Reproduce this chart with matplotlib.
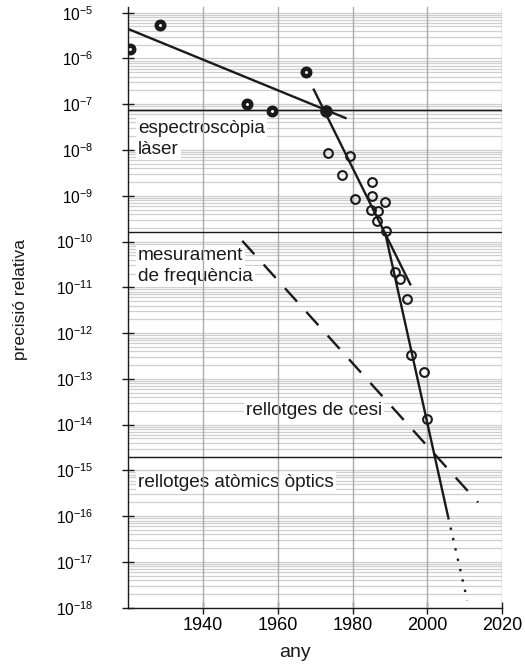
import matplotlib
matplotlib.use("Agg")
import matplotlib.pyplot as plt
from matplotlib.ticker import LogLocator, NullFormatter, LogFormatterMathtext
import numpy as np

plt.rcParams["font.family"] = ["Liberation Sans", "DejaVu Sans"]
plt.rcParams["mathtext.fontset"] = "custom"
plt.rcParams["mathtext.rm"] = "Liberation Sans"
plt.rcParams["mathtext.it"] = "Liberation Sans:italic"
plt.rcParams["mathtext.bf"] = "Liberation Sans:bold"

# early measurements (bold rings)
early_year = [1920.5, 1928.5, 1951.7, 1958.4, 1967.6]
early_prec = [1.6e-6, 5.4e-6, 1.0e-7, 7.1e-8, 5.1e-7]

# point where the two trends cross
cross_year = [1972.9]
cross_prec = [7.1e-8]

# later measurements (open rings)
late_year = [1973.4, 1977.3, 1979.4, 1980.6, 1985.3, 1985.3, 1984.9, 1986.7,
             1986.5, 1988.6, 1988.9, 1991.4, 1992.7, 1994.6, 1995.7, 1999.0, 1999.8]
late_prec = [8.5e-9, 2.8e-9, 7.3e-9, 8.5e-10, 2.0e-9, 1.0e-9, 4.9e-10, 4.7e-10,
             2.8e-10, 7.2e-10, 1.7e-10, 2.2e-11, 1.5e-11, 5.6e-12, 3.4e-13, 1.4e-13, 1.3e-14]

# trend lines (year, precision) endpoints
early_trend_x = [1920.0, 1978.4]
early_trend_y = [4.4e-6, 4.9e-8]
laser_trend_x = [1969.5, 1995.6]
laser_trend_y = [2.2e-7, 1.1e-11]
freq_trend_x = [1988.7, 2005.6]
freq_trend_y = [1.6e-10, 9.5e-17]
proj_trend_x = [2005.6, 2010.7]
proj_trend_y = [9.5e-17, 1.45e-18]
cesium_x = [1950.5, 2013.6]
cesium_y = [1.035e-10, 2.0e-16]

# boundaries between technique regions
region_limits = [7.5e-8, 1.64e-10, 1.93e-15]

# region labels: (year, precision baseline, text)
labels = [
    (1922.6, 2.32e-8, "espectroscòpia"),
    (1922.6, 8.2e-9, "làser"),
    (1922.6, 3.95e-11, "mesurament"),
    (1922.6, 1.37e-11, "de frequència"),
    (1951.4, 1.62e-14, "rellotges de cesi"),
    (1922.6, 4.27e-16, "rellotges atòmics òptics"),
]

x_ticks = [1940, 1960, 1980, 2000, 2020]
y_ticks = 10.0 ** np.arange(-18, -4)

ink = "#1a1a1a"

fig = plt.figure(figsize=(5.25, 6.69), dpi=100)
ax = fig.add_axes([128.3 / 525, (669 - 607.7) / 669, (502 - 128.3) / 525, (607.7 - 7) / 669])

ax.set_yscale("log")
ax.set_xlim(1920, 2020)
ax.set_ylim(1e-18, 10 ** -4.875)

# horizontal grid (minor + major), behind everything
ax.yaxis.set_minor_locator(LogLocator(base=10, subs=np.arange(2, 10), numticks=100))
ax.yaxis.set_minor_formatter(NullFormatter())
ax.set_yticks(y_ticks)
ax.yaxis.set_major_formatter(LogFormatterMathtext())
ax.set_axisbelow(True)
ax.grid(axis="y", which="both", color="#cfcfcf", lw=0.9)

# vertical grid lines drawn above the label boxes
ax.set_xticks(x_ticks)
for xt in x_ticks:
    ax.axvline(xt, color="#ababab", lw=1.0, zorder=3.5)

for lim in region_limits:
    ax.axhline(lim, color=ink, lw=1.0, zorder=4)

for x, y, s in labels:
    ax.text(x, y, s, fontsize=13.7, va="baseline", ha="left", color=ink, zorder=3,
            bbox=dict(facecolor="white", edgecolor="none", pad=1.5))

line_kw = dict(color=ink, lw=1.7, zorder=5, solid_capstyle="butt")
ax.plot(early_trend_x, early_trend_y, **line_kw)
ax.plot(laser_trend_x, laser_trend_y, **line_kw)
ax.plot(freq_trend_x, freq_trend_y, **line_kw)
ax.plot(proj_trend_x, proj_trend_y, color=ink, lw=1.7, zorder=5,
        linestyle=(0, (1, 3.5)), dash_capstyle="butt")
ax.plot(cesium_x, cesium_y, color=ink, lw=1.7, zorder=5,
        linestyle=(0, (7.6, 5.9)), dash_capstyle="butt")

ax.plot(early_year, early_prec, "o", ms=5.4, mew=3.2, mfc="white", mec=ink, zorder=6)
ax.plot(cross_year, cross_prec, "o", ms=8.2, mew=0.8, mfc=ink, mec=ink, zorder=6)
ax.plot(late_year, late_prec, "o", ms=6.3, mew=1.5, mfc="none", mec=ink, zorder=6)

for side in ["top", "right"]:
    ax.spines[side].set_visible(False)
for side in ["left", "bottom"]:
    ax.spines[side].set_linewidth(1.0)
    ax.spines[side].set_color(ink)

ax.tick_params(axis="both", which="major", direction="inout", length=8, width=1.0, color=ink)
ax.tick_params(axis="both", which="minor", length=0)
ax.tick_params(axis="y", labelsize=11.2, pad=21)
ax.tick_params(axis="x", labelsize=13, pad=3)

fig.text(295 / 525, 12 / 669, "any", fontsize=14, ha="center", va="baseline", color=ink)
fig.text(20 / 525, (669 - 299) / 669, "precisió relativa", fontsize=12.5, rotation=90,
         ha="center", va="center", color=ink)

fig.savefig("out.png", dpi=100)
